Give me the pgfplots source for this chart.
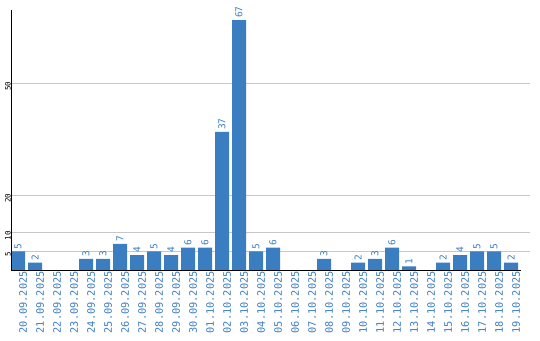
\documentclass[border=0pt]{standalone}
\usepackage{pgfplots}
\pgfplotsset{compat=1.18}
\usepackage{pgfplotstable}
\usepackage{fontspec}
\setmainfont{DejaVu Sans}
\setmonofont{DejaVu Sans Mono}
\definecolor{barblue}{HTML}{3B7DC1}
\pgfplotstableread{
x date value
0 20.09.2025 5
1 21.09.2025 2
2 22.09.2025 0
3 23.09.2025 0
4 24.09.2025 3
5 25.09.2025 3
6 26.09.2025 7
7 27.09.2025 4
8 28.09.2025 5
9 29.09.2025 4
10 30.09.2025 6
11 01.10.2025 6
12 02.10.2025 37
13 03.10.2025 67
14 04.10.2025 5
15 05.10.2025 6
16 06.10.2025 0
17 07.10.2025 0
18 08.10.2025 3
19 09.10.2025 0
20 10.10.2025 2
21 11.10.2025 3
22 12.10.2025 6
23 13.10.2025 1
24 14.10.2025 0
25 15.10.2025 2
26 16.10.2025 4
27 17.10.2025 5
28 18.10.2025 5
29 19.10.2025 2
}\data
\begin{document}
\begin{tikzpicture}
\begin{axis}[
  at={(0,0)}, anchor=south west,
  scale only axis,
  width=519pt, height=260pt,
  xmin=-0.412, xmax=30.118,
  ymin=0, ymax=69.7,
  axis line style={draw=none},
  ytick={5,10,20,50},
  ymajorgrids,
  grid style={color=black!22, line width=0.8pt},
  major tick length=0pt,
  /pgf/number format/assume math mode=true,
  yticklabel style={font=\ttfamily\fontsize{7.5}{7.5}\selectfont, rotate=90, anchor=south, inner sep=0pt, xshift=-3pt},
  xtick={0,...,29},
  xticklabels from table={\data}{date},
  xticklabel style={font=\ttfamily\fontsize{10.3}{10.5}\selectfont, text=barblue, rotate=90, anchor=east, inner sep=0pt, yshift=-5pt, xshift=-1pt},
  clip=false,
]
\addplot[ybar, bar width=14pt, fill=barblue, draw=none,
  nodes near coords={\pgfmathfloatifflags{\pgfplotspointmeta}{0}{}{\pgfmathprintnumber{\pgfplotspointmeta}}},
  every node near coord/.append style={font=\ttfamily\fontsize{9.5}{9.5}\selectfont, text=barblue, rotate=90, anchor=west, inner sep=0pt, xshift=2pt},
  ] table[x=x, y=value] {\data};
\draw[black, line width=0.9pt] (axis cs:-0.412,0) -- (axis cs:29.588,0);
\draw[black, line width=0.9pt] (axis cs:-0.412,0) -- (axis cs:-0.412,69.7);
\end{axis}
\pgfresetboundingbox
\path[use as bounding box] (-11pt,-70pt) rectangle (529pt,270pt);
\end{tikzpicture}
\end{document}
